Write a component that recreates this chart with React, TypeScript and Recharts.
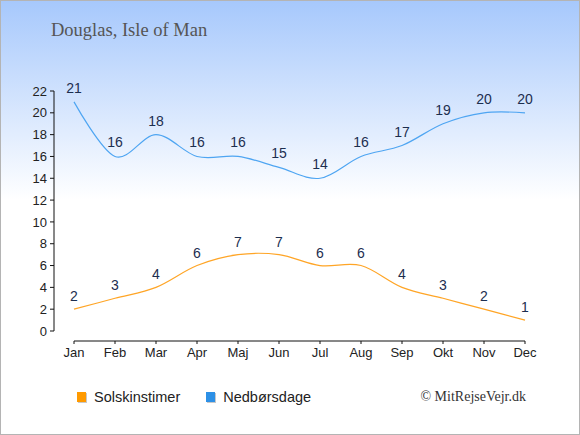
import React from "react";
import { LineChart, Line, XAxis, YAxis, LabelList } from "recharts";

const months = ["Jan", "Feb", "Mar", "Apr", "Maj", "Jun", "Jul", "Aug", "Sep", "Okt", "Nov", "Dec"];
const sunHours = [2, 3, 4, 6, 7, 7, 6, 6, 4, 3, 2, 1];
const rainDays = [21, 16, 18, 16, 16, 15, 14, 16, 17, 19, 20, 20];
const yTicks = [0, 2, 4, 6, 8, 10, 12, 14, 16, 18, 20, 22];

const data = months.map((m, i) => ({ month: m, sun: sunHours[i], rain: rainDays[i] }));

// cardinal spline (same maths as d3's curveCardinal, tension 0)
class Cardinal {
    _context: any;
    _k: number;
    _line: number = NaN;
    _point = 0;
    _x0 = NaN; _x1 = NaN; _x2 = NaN;
    _y0 = NaN; _y1 = NaN; _y2 = NaN;

    constructor(context: any, tension: number) {
        this._context = context;
        this._k = (1 - tension) / 6;
    }
    areaStart() { this._line = 0; }
    areaEnd() { this._line = NaN; }
    lineStart() {
        this._x0 = this._x1 = this._x2 = this._y0 = this._y1 = this._y2 = NaN;
        this._point = 0;
    }
    lineEnd() {
        switch (this._point) {
            case 2: this._context.lineTo(this._x2, this._y2); break;
            case 3: this.bez(this._x1, this._y1); break;
        }
        if (this._line || (this._line !== 0 && this._point === 1)) this._context.closePath();
        this._line = 1 - this._line;
    }
    bez(x: number, y: number) {
        this._context.bezierCurveTo(
            this._x1 + this._k * (this._x2 - this._x0),
            this._y1 + this._k * (this._y2 - this._y0),
            this._x2 + this._k * (this._x1 - x),
            this._y2 + this._k * (this._y1 - y),
            this._x2,
            this._y2
        );
    }
    point(x: number, y: number) {
        x = +x; y = +y;
        switch (this._point) {
            case 0:
                this._point = 1;
                this._line ? this._context.lineTo(x, y) : this._context.moveTo(x, y);
                break;
            case 1:
                this._point = 2;
                this._x1 = x; this._y1 = y;
                break;
            case 2:
                this._point = 3;
                this.bez(x, y);
                break;
            default:
                this.bez(x, y);
                break;
        }
        this._x0 = this._x1; this._x1 = this._x2; this._x2 = x;
        this._y0 = this._y1; this._y1 = this._y2; this._y2 = y;
    }
}

const smooth: any = (context: any) => new Cardinal(context, 0);

const tickStyle = { fill: "#222", fontSize: 13 };
const labelColor = "#1c2e4f";

const LegendItem = ({ color, label }: { color: string; label: string }) => (
    <div style={{ display: "flex", alignItems: "center", marginRight: 26 }}>
        <span
            style={{
                width: 9,
                height: 10,
                background: color,
                boxShadow: "1px 1px 0 #c8c8c8",
                marginRight: 8,
                display: "inline-block",
            }}
        />
        <span style={{ fontSize: 14.5, color: "#222" }}>{label}</span>
    </div>
);

const App = () => {
    return (
        <div
            style={{
                position: "relative",
                width: 580,
                height: 435,
                background: "linear-gradient(to bottom, #a6c8fc 0px, #ffffff 200px)",
                fontFamily: "'Liberation Sans', Arial, sans-serif",
            }}
        >
            <style>{`body { margin: 0; }`}</style>

            <div
                style={{
                    position: "absolute",
                    left: 51,
                    top: 20,
                    fontFamily: "'Liberation Serif', serif",
                    fontSize: 18.5,
                    color: "#555",
                }}
            >
                Douglas, Isle of Man
            </div>

            <LineChart
                width={580}
                height={435}
                data={data}
                margin={{ top: 91, right: 55, bottom: 64, left: 24 }}
                style={{ position: "absolute", left: 0, top: 0 }}
            >
                <XAxis
                    dataKey="month"
                    interval={0}
                    height={30}
                    padding={{ left: 20, right: 0 }}
                    tickSize={3}
                    tickMargin={4}
                    axisLine={{ stroke: "#111", strokeDasharray: "0 20 1000" }}
                    tickLine={{ stroke: "#111" }}
                    tick={tickStyle}
                />
                <YAxis
                    domain={[0, 22]}
                    ticks={yTicks}
                    interval={0}
                    width={30}
                    padding={{ top: 0, bottom: 10 }}
                    tickSize={4}
                    tickMargin={3}
                    axisLine={{ stroke: "#111", strokeDasharray: "240 1000" }}
                    tickLine={{ stroke: "#111" }}
                    tick={tickStyle}
                />
                <Line
                    dataKey="rain"
                    type={smooth}
                    stroke="#4ea5f2"
                    strokeWidth={1.2}
                    dot={false}
                    activeDot={false}
                    isAnimationActive={false}
                >
                    <LabelList dataKey="rain" position="top" offset={9} fill={labelColor} fontSize={14} />
                </Line>
                <Line
                    dataKey="sun"
                    type={smooth}
                    stroke="#ffa526"
                    strokeWidth={1.2}
                    dot={false}
                    activeDot={false}
                    isAnimationActive={false}
                >
                    <LabelList dataKey="sun" position="top" offset={8} fill={labelColor} fontSize={14} />
                </Line>
            </LineChart>

            <div style={{ position: "absolute", left: 77, top: 389, display: "flex" }}>
                <LegendItem color="#ff9a00" label="Solskinstimer" />
                <LegendItem color="#2d90e6" label="Nedbørsdage" />
            </div>

            <div
                style={{
                    position: "absolute",
                    right: 54,
                    top: 389,
                    fontFamily: "'Liberation Serif', serif",
                    fontSize: 14,
                    color: "#333",
                }}
            >
                © MitRejseVejr.dk
            </div>

            <div
                style={{
                    position: "absolute",
                    inset: 0,
                    border: "1px solid #b4b4b4",
                    pointerEvents: "none",
                }}
            />
        </div>
    );
};

export default App;
